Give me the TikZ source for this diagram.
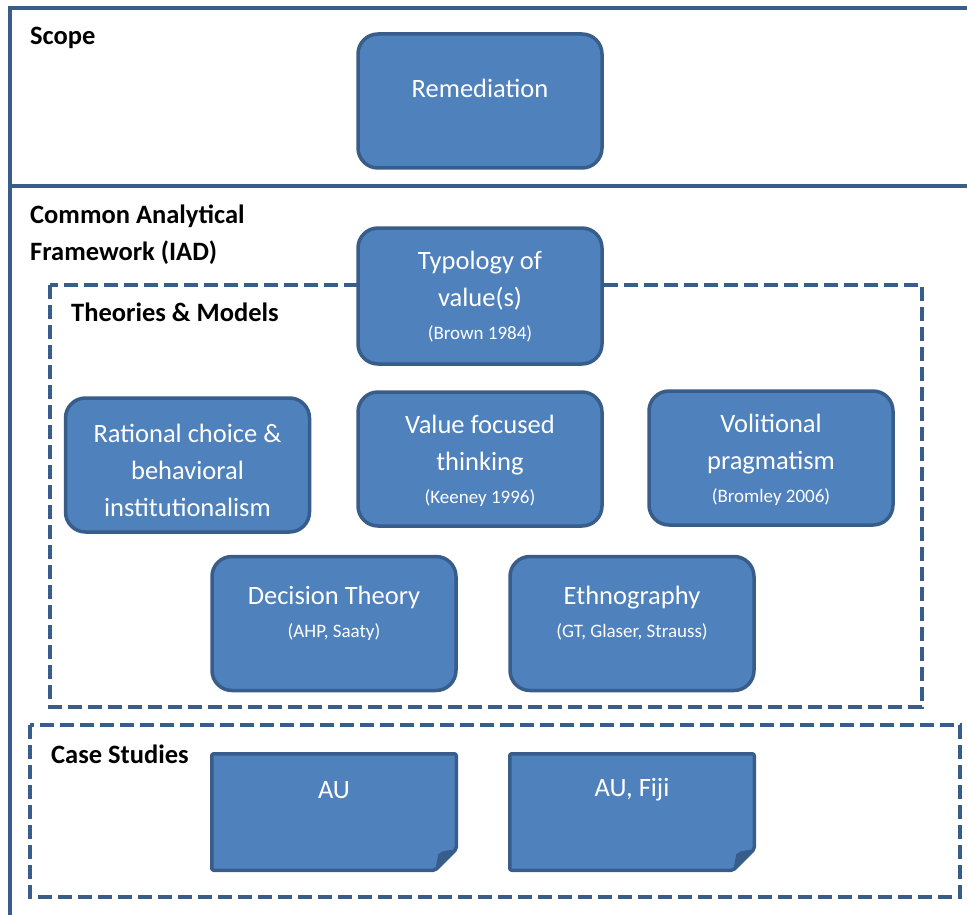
\documentclass[tikz,border=0pt]{standalone}
\usepackage{fontspec}
\setmainfont{Carlito}
\usepackage{tikz}

\definecolor{boxblue}{HTML}{4F81BD}
\definecolor{boxedge}{HTML}{385D8A}

\newcommand{\srcnote}[1]{\\[-4pt]{\fontsize{19}{23}\selectfont #1}}

\tikzset{
  valbox/.style={draw=boxedge, fill=boxblue, line width=3.5pt, rounded corners=20pt,
    minimum width=244pt, minimum height=134pt},
  notebox/.style={minimum width=244.5pt, minimum height=116.5pt, inner sep=0pt, outer sep=0pt},
  noteedge/.style={draw=boxedge, fill=boxblue, line width=3.5pt, line join=round, rounded corners=2pt},
  boxtext/.style={text=white, align=center, font=\fontsize{26.5}{37}\selectfont},
  sectlabel/.style={anchor=base west, inner sep=0pt, font=\bfseries\fontsize{26.5}{37}\selectfont},
  dashframe/.style={draw=boxedge, line width=3.5pt, dash pattern=on 14pt off 6pt},
  frameline/.style={draw=boxedge, line width=4pt}
}

\begin{document}
\begin{tikzpicture}[x=1pt, y=-1pt]
\useasboundingbox (0,0) rectangle (967,915);

% Outer frame and divider
\draw[frameline] (10,915) -- (10,8) -- (967,8);
\draw[frameline] (10,186) -- (967,186);

% Dashed groups
\draw[dashframe] (50,285) rectangle (922,707);
\draw[dashframe] (30,725) rectangle (960,897);

% Section labels
\node[sectlabel] (scope) at (30,45) {Scope};
\node[sectlabel] (caf1) at (30,223) {Common Analytical};
\node[sectlabel] (caf2) at (30,260) {Framework (IAD)};
\node[sectlabel] (theo) at (71,321) {Theories \& Models};
\node[sectlabel] (cases) at (51,763) {Case Studies};

% Scope
\node[valbox] (remed) at (480,101) {};
\node[boxtext] (remed-txt) at (480,88) {Remediation};

% Framework
\node[valbox, minimum height=136pt] (typo) at (480,296) {};
\node[boxtext] (typo-txt) at (480,297) {Typology of\\value(s)\srcnote{(Brown 1984)}};

\node[valbox] (ratch) at (187.5,465) {};
\node[boxtext] (ratch-txt) at (187.5,470) {Rational choice \&\\behavioral\\institutionalism};

\node[valbox] (vft) at (480,459) {};
\node[boxtext] (vft-txt) at (480,461) {Value focused\\thinking\srcnote{(Keeney 1996)}};

\node[valbox] (volp) at (771,458) {};
\node[boxtext] (volp-txt) at (771,460) {Volitional\\pragmatism\srcnote{(Bromley 2006)}};

\node[valbox] (dect) at (334,623.5) {};
\node[boxtext] (dect-txt) at (334,613) {Decision Theory\srcnote{(AHP, Saaty)}};

\node[valbox] (ethno) at (632,623.5) {};
\node[boxtext] (ethno-txt) at (632,613) {Ethnography\srcnote{(GT, Glaser, Strauss)}};

% Case studies (folded notes)
\foreach \nm/\cx/\txt in {au/334/AU, aufiji/632/{AU, Fiji}} {
  \node[notebox] (\nm) at (\cx,812) {};
  \draw[noteedge] (\nm.north west) -- (\nm.north east) -- ([yshift=21pt]\nm.south east)
    -- ([xshift=-21pt]\nm.south east) -- (\nm.south west) -- cycle;
  \fill[boxedge] ([xshift=-21pt]\nm.south east) -- ([xshift=-18pt,yshift=16pt]\nm.south east)
    .. controls ([xshift=-15pt,yshift=19pt]\nm.south east) .. ([yshift=21pt]\nm.south east) -- cycle;
  \node[boxtext] (\nm-txt) at (\cx,790) {\txt};
}

\end{tikzpicture}
\end{document}
